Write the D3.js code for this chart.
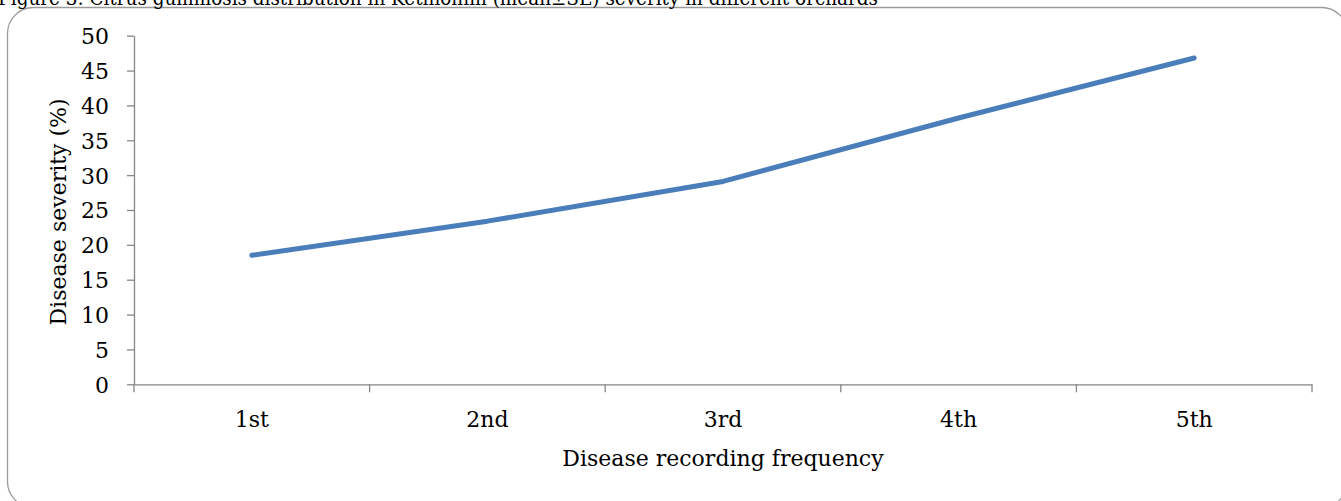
<!DOCTYPE html>
<html>
<head>
<meta charset="utf-8">
<script src="https://cdn.jsdelivr.net/npm/d3@7"></script>
<style>
  html, body { margin: 0; padding: 0; background: #fff; overflow: hidden; }
  svg { display: block; font-family: "DejaVu Serif", "Liberation Serif", serif; }
</style>
</head>
<body>
<svg id="chart" width="1341" height="501"></svg>
<script>
const categories = ["1st", "2nd", "3rd", "4th", "5th"];
const severity = [18.5, 23.4, 29.1, 38.2, 46.8];
const yTicks = [0, 5, 10, 15, 20, 25, 30, 35, 40, 45, 50];
const titleText = "Figure 3: Citrus gummosis distribution in Kethiohhh (mean\u00B1SE) severity in different orchards";
const xTitle = "Disease recording frequency";
const yTitle = "Disease severity (%)";

const svg = d3.select("#chart");
const plot = { left: 134, right: 1312, top: 35.7, bottom: 384.3 };

// outer frame
svg.append("rect")
  .attr("x", 7.5).attr("y", 7.5)
  .attr("width", 1340).attr("height", 500)
  .attr("rx", 26).attr("ry", 26)
  .attr("fill", "#fff").attr("stroke", "#9a9a9a").attr("stroke-width", 1.3);

// caption above the frame (cut off by the top edge, as in the reference)
svg.append("text")
  .attr("x", -2).attr("y", 5)
  .attr("font-size", 20)
  .attr("textLength", 880)
  .attr("lengthAdjust", "spacingAndGlyphs")
  .attr("fill", "#000")
  .text(titleText);

const x = d3.scaleBand().domain(categories).range([plot.left, plot.right]).padding(0);
const y = d3.scaleLinear().domain([0, 50]).range([plot.bottom, plot.top]);

const axisColor = "#868686";
const fs = 22;

// y axis
const yAxis = svg.append("g")
  .attr("transform", `translate(${plot.left},0)`)
  .call(d3.axisLeft(y).tickValues(yTicks).tickSize(7).tickPadding(18).tickSizeOuter(0));
yAxis.select(".domain").attr("stroke", axisColor).attr("stroke-width", 1.3);
yAxis.selectAll(".tick line").attr("stroke", axisColor).attr("stroke-width", 1.3);
yAxis.selectAll(".tick text")
  .attr("font-family", "DejaVu Serif, serif")
  .attr("font-size", fs).attr("fill", "#000").attr("dy", "0.36em");

// x axis
const xAxis = svg.append("g")
  .attr("transform", `translate(0,${plot.bottom})`)
  .call(d3.axisBottom(x).tickSize(0).tickPadding(0));
xAxis.select(".domain").attr("stroke", axisColor).attr("stroke-width", 1.3);
xAxis.selectAll(".tick text")
  .attr("font-family", "DejaVu Serif, serif")
  .attr("font-size", fs).attr("fill", "#000")
  .attr("y", 43).attr("dy", 0);
// category boundary tick marks
const bounds = categories.map(c => x(c)).concat([x(categories[categories.length - 1]) + x.bandwidth()]);
xAxis.selectAll(".bound").data(bounds).enter().append("line")
  .attr("class", "bound")
  .attr("x1", d => d).attr("x2", d => d)
  .attr("y1", 0).attr("y2", 8)
  .attr("stroke", axisColor).attr("stroke-width", 1.3);

// line
const line = d3.line()
  .x((d, i) => x(categories[i]) + x.bandwidth() / 2)
  .y(d => y(d));
svg.append("path")
  .datum(severity)
  .attr("d", line)
  .attr("fill", "none")
  .attr("stroke", "#4A7EBB")
  .attr("stroke-width", 5)
  .attr("stroke-linecap", "round")
  .attr("stroke-linejoin", "round");

// axis titles
svg.append("text")
  .attr("x", 723)
  .attr("y", 466)
  .attr("text-anchor", "middle")
  .attr("font-size", fs)
  .text(xTitle);

svg.append("text")
  .attr("transform", `translate(66,212) rotate(-90)`)
  .attr("text-anchor", "middle")
  .attr("font-size", fs)
  .text(yTitle);
</script>
</body>
</html>
